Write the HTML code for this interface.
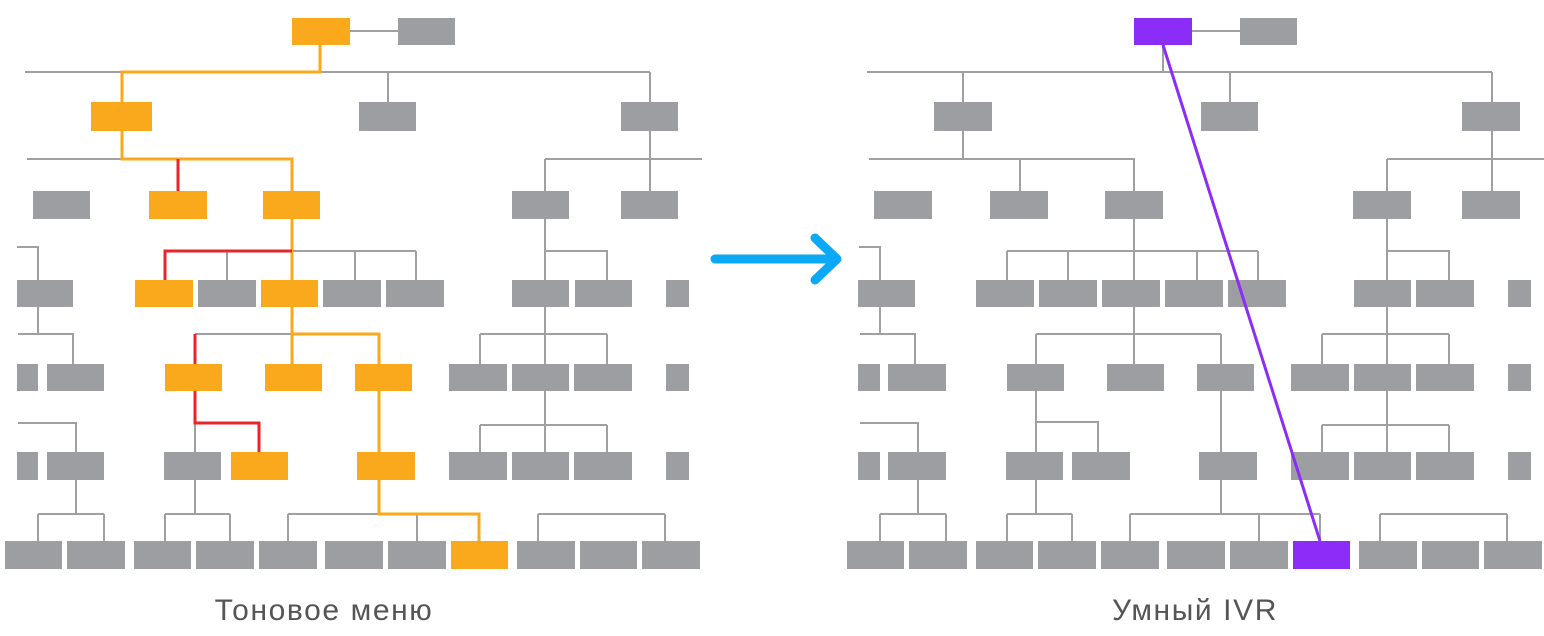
<!DOCTYPE html>
<html><head><meta charset="utf-8"><style>
html,body{margin:0;padding:0;background:#fff;width:1544px;height:636px;overflow:hidden}
svg{display:block}
.g{fill:#9d9ea2}.o{fill:#f9a91b}.p{fill:#8c2cf7}
.l{stroke:#a0a0a2;stroke-width:2;fill:none}
.lo{stroke:#f9a91b;stroke-width:3;fill:none}
.lr{stroke:#e8262a;stroke-width:3;fill:none}
text{font-family:"Liberation Sans",sans-serif;font-size:30px;letter-spacing:1.6px;fill:#555;text-anchor:middle;font-weight:300}
</style></head><body>
<svg width="1544" height="636" viewBox="0 0 1544 636">
<path class="l" d="M350 31H398 M25 72H650 M388 72V102 M650 72V102 M27 159H293 M545 159H702 M650 131V191 M545 159V191
M17 247H38V280 M292 251H416 M227 251V280 M355 251V280 M416 251V280 M545 219V280 M545 251H607V280
M38 307V334 M18 334H73V364 M195 334H292 M545 307V364 M480 334H607 M480 334V364 M607 334V364
M18 423H76V452 M195 423V452 M545 391V452 M480 425H607 M480 425V452 M607 425V452
M76 480V514 M38 514H104 M38 514V541 M104 514V541 M195 480V514 M165 514H230 M165 514V541 M230 514V541
M288 514H379 M288 514V541 M417 514V541 M538 514H665 M538 514V541 M665 514V541"/>
<path class="lo" d="M320 45V72H122V102 M122 131V159H292V191 M292 219V280 M292 307V364 M292 334H379V364 M379 391V452 M379 480V514H479V541"/>
<path class="lr" d="M178 159V191 M292 251H165V280 M195 334V364 M195 391V423H259V452"/>
<g class="g">
<rect x="398" y="18" width="57" height="27"/>
<rect x="359" y="102" width="57" height="29"/><rect x="621" y="102" width="57" height="29"/>
<rect x="33" y="191" width="57" height="28"/><rect x="512" y="191" width="57" height="28"/><rect x="621" y="191" width="57" height="28"/>
<rect x="17" y="280" width="56" height="27"/><rect x="198" y="280" width="58" height="27"/><rect x="323" y="280" width="58" height="27"/><rect x="386" y="280" width="58" height="27"/><rect x="512" y="280" width="57" height="27"/><rect x="575" y="280" width="57" height="27"/><rect x="666" y="280" width="23" height="27"/>
<rect x="17" y="364" width="21" height="27"/><rect x="47" y="364" width="57" height="27"/><rect x="449" y="364" width="58" height="27"/><rect x="512" y="364" width="57" height="27"/><rect x="574" y="364" width="58" height="27"/><rect x="666" y="364" width="23" height="27"/>
<rect x="17" y="452" width="21" height="28"/><rect x="47" y="452" width="57" height="28"/><rect x="164" y="452" width="57" height="28"/><rect x="449" y="452" width="58" height="28"/><rect x="512" y="452" width="57" height="28"/><rect x="574" y="452" width="58" height="28"/><rect x="666" y="452" width="23" height="28"/>
<rect x="5" y="541" width="57" height="28"/><rect x="67" y="541" width="58" height="28"/><rect x="134" y="541" width="57" height="28"/><rect x="196" y="541" width="58" height="28"/><rect x="259" y="541" width="58" height="28"/><rect x="325" y="541" width="58" height="28"/><rect x="388" y="541" width="58" height="28"/><rect x="517" y="541" width="58" height="28"/><rect x="580" y="541" width="57" height="28"/><rect x="642" y="541" width="58" height="28"/>
</g>
<g class="o">
<rect x="292" y="18" width="58" height="27"/>
<rect x="91" y="102" width="61" height="29"/>
<rect x="149" y="191" width="58" height="28"/><rect x="263" y="191" width="57" height="28"/>
<rect x="135" y="280" width="58" height="27"/><rect x="261" y="280" width="57" height="27"/>
<rect x="165" y="364" width="57" height="27"/><rect x="265" y="364" width="57" height="27"/><rect x="355" y="364" width="57" height="27"/>
<rect x="231" y="452" width="57" height="28"/><rect x="357" y="452" width="58" height="28"/>
<rect x="451" y="541" width="57" height="28"/>
</g>
<text x="324" y="620">Тоновое меню</text>

<path d="M715 259H836 M815 238L837 259L815 280" stroke="#0aa8f5" stroke-width="9" fill="none" stroke-linecap="round" stroke-linejoin="round"/>

<path class="l" d="M1192 31H1240 M867 72H1492 M1163 45V72 M963 72V102 M1230 72V102 M1492 72V102
M963 131V159 M869 159H1135 M1020 159V191 M1134 159V191 M1387 159H1544 M1492 131V191 M1387 159V191
M859 247H880V280 M1134 219V251 M1007 251H1258 M1007 251V280 M1068 251V280 M1134 251V280 M1197 251V280 M1258 251V280 M1387 219V280 M1387 251H1449V280
M880 307V334 M860 334H915V364 M1134 307V334 M1036 334H1221 M1036 334V364 M1134 334V364 M1221 334V364 M1387 307V364 M1322 334H1449 M1322 334V364 M1449 334V364
M860 423H918V452 M1036 391V452 M1036 422H1098V452 M1221 391V452 M1387 391V452 M1322 425H1449 M1322 425V452 M1449 425V452
M918 480V514 M880 514H946 M880 514V541 M946 514V541 M1036 480V514 M1007 514H1072 M1007 514V541 M1072 514V541
M1221 480V514 M1130 514H1320 M1130 514V541 M1259 514V541 M1320 514V541 M1380 514H1507 M1380 514V541 M1507 514V541"/>
<g class="g">
<rect x="1240" y="18" width="57" height="27"/>
<rect x="934" y="102" width="58" height="29"/><rect x="1201" y="102" width="57" height="29"/><rect x="1462" y="102" width="58" height="29"/>
<rect x="874" y="191" width="58" height="28"/><rect x="990" y="191" width="58" height="28"/><rect x="1105" y="191" width="58" height="28"/><rect x="1353" y="191" width="58" height="28"/><rect x="1462" y="191" width="58" height="28"/>
<rect x="858" y="280" width="57" height="27"/><rect x="976" y="280" width="58" height="27"/><rect x="1039" y="280" width="58" height="27"/><rect x="1102" y="280" width="58" height="27"/><rect x="1165" y="280" width="58" height="27"/><rect x="1228" y="280" width="58" height="27"/><rect x="1354" y="280" width="57" height="27"/><rect x="1416" y="280" width="58" height="27"/><rect x="1508" y="280" width="23" height="27"/>
<rect x="858" y="364" width="22" height="27"/><rect x="888" y="364" width="58" height="27"/><rect x="1007" y="364" width="57" height="27"/><rect x="1107" y="364" width="57" height="27"/><rect x="1197" y="364" width="57" height="27"/><rect x="1291" y="364" width="58" height="27"/><rect x="1354" y="364" width="57" height="27"/><rect x="1416" y="364" width="58" height="27"/><rect x="1508" y="364" width="23" height="27"/>
<rect x="858" y="452" width="22" height="28"/><rect x="888" y="452" width="58" height="28"/><rect x="1006" y="452" width="57" height="28"/><rect x="1072" y="452" width="58" height="28"/><rect x="1199" y="452" width="58" height="28"/><rect x="1291" y="452" width="58" height="28"/><rect x="1354" y="452" width="57" height="28"/><rect x="1416" y="452" width="58" height="28"/><rect x="1508" y="452" width="23" height="28"/>
<rect x="847" y="541" width="57" height="28"/><rect x="909" y="541" width="58" height="28"/><rect x="976" y="541" width="57" height="28"/><rect x="1038" y="541" width="58" height="28"/><rect x="1101" y="541" width="58" height="28"/><rect x="1167" y="541" width="58" height="28"/><rect x="1230" y="541" width="58" height="28"/><rect x="1359" y="541" width="58" height="28"/><rect x="1422" y="541" width="57" height="28"/><rect x="1484" y="541" width="58" height="28"/>
</g>
<g class="p">
<rect x="1134" y="18" width="58" height="27"/>
<rect x="1293" y="541" width="57" height="28"/>
</g>
<path d="M1163 45L1320 541" stroke="#8c2cf7" stroke-width="3" fill="none"/>
<text x="1195" y="620">Умный IVR</text>
</svg>
</body></html>
